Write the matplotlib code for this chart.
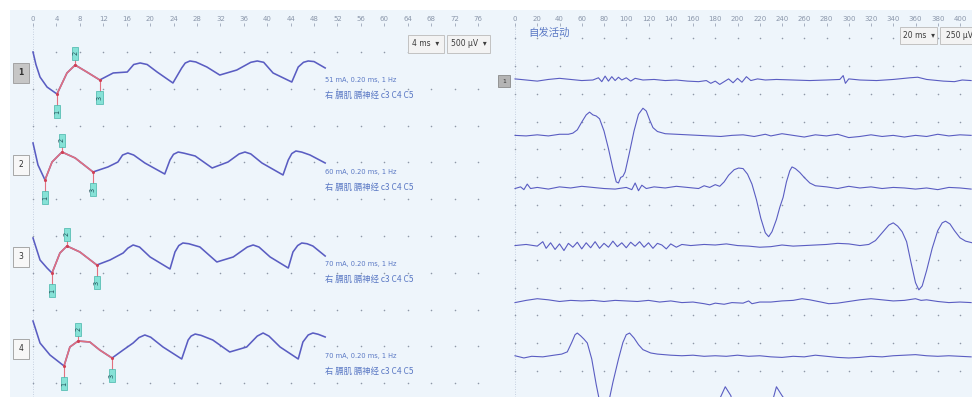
import numpy as np
import matplotlib
matplotlib.use('Agg')
import matplotlib.pyplot as plt
from matplotlib.patches import Rectangle

# ---------------- data ----------------
left_ticks = list(range(0, 80, 4))          # ms
right_ticks = list(range(0, 420, 20))       # ms

l1_t = [0, 0.5, 1.2, 2.4, 4.1, 5.8, 7.2, 9.2, 11.4, 13.7, 16.1, 17.2, 18.3, 19.5, 21.2, 23.9,
        25.4, 26.0, 26.8, 27.8, 29.7, 31.9, 34.8, 37.2, 38.3, 39.4, 41.0, 44.2, 45.3, 46.2, 47.0, 48.0, 49.9]
l1_v = [0, -170, -340, -476, -571, -285, -177, -272, -380, -285, -272, -170, -149, -170, -272, -421,
        -217, -150, -122, -135, -204, -313, -245, -140, -122, -140, -285, -408, -204, -140, -122, -130, -217]
l2_t = [0, 0.85, 2.05, 3.25, 4.95, 7.2, 10.25, 12.8, 14.5, 15.3, 16.2, 17.2, 19.1, 22.5, 23.4, 24.0,
        24.8, 25.8, 27.7, 30.6, 33.3, 35.2, 36.2, 37.2, 39.1, 42.7, 43.6, 44.2, 44.9, 45.9, 47.3, 49.9]
l2_v = [14, -285, -489, -245, -109, -190, -380, -312, -245, -150, -122, -150, -258, -408, -217, -140,
        -109, -125, -163, -326, -245, -135, -109, -135, -258, -421, -217, -130, -95, -110, -149, -258]
l3_t = [0, 1.2, 2.4, 3.25, 4.6, 5.8, 8.0, 10.9, 13.15, 15.4, 16.2, 17.1, 18.2, 20.0, 23.4, 24.25,
        24.9, 25.6, 26.6, 28.5, 31.4, 34.2, 36.6, 37.6, 38.6, 40.5, 43.6, 44.4, 45.2, 45.9, 46.8, 47.8, 49.9]
l3_v = [-27, -326, -435, -503, -231, -136, -217, -394, -326, -231, -165, -122, -150, -285, -448, -217,
        -130, -95, -105, -149, -353, -285, -150, -122, -150, -285, -435, -217, -130, -95, -105, -136, -272]
l4_t = [0, 1.2, 2.9, 5.3, 6.3, 7.7, 9.7, 11.4, 13.5, 15.4, 17.1, 18.1, 19.1, 20.1, 22.2, 25.4,
        26.5, 27.0, 27.7, 28.7, 30.7, 33.6, 36.5, 38.3, 39.3, 40.3, 42.2, 45.3, 46.1, 47.0, 47.8, 48.7, 49.9]
l4_v = [95, -204, -367, -516, -258, -177, -190, -299, -408, -299, -204, -130, -95, -125, -258, -421,
        -163, -110, -82, -100, -163, -326, -258, -110, -68, -110, -258, -421, -190, -95, -68, -85, -122]
l1_marks = [4.1, 7.2, 11.4]
l2_marks = [2.05, 4.95, 10.25]
l3_marks = [3.25, 5.8, 10.9]
l4_marks = [5.3, 7.7, 13.5]
stim_labels = ["51 mA, 0.20 ms, 1 Hz", "60 mA, 0.20 ms, 1 Hz",
               "70 mA, 0.20 ms, 1 Hz", "70 mA, 0.20 ms, 1 Hz"]
site_label = "右 膈肌 膈神经 c3 C4 C5"

ra_t = [0, 10, 20, 30, 40, 50, 60, 70, 75, 78, 81, 84, 87, 90, 93, 96, 100, 104, 108, 115, 125, 135,
        145, 155, 165, 172, 176, 180, 184, 188, 192, 196, 200, 204, 208, 212, 218, 225, 235, 250, 265,
        280, 292, 295, 297, 300, 310, 325, 340, 355, 362, 370, 385, 395, 402, 410]
ra_v = [10, 0, -10, 5, 15, 5, -5, 0, 20, -15, 35, -10, 30, -5, 25, 0, 20, -10, 15, 0, 5, -5,
        0, -10, -15, -5, -30, -10, -40, -15, 10, -25, 15, -20, 30, -5, 10, 0, 5, 0, -5,
        0, 5, 40, -30, 10, 0, -5, 5, 20, 25, 5, -10, -15, 0, -5]
rb_t = [0, 10, 20, 30, 40, 48, 52, 56, 60, 64, 67, 70, 73, 76, 80, 84, 88, 91, 93, 95, 97, 99, 103,
        107, 111, 115, 118, 121, 124, 128, 135, 145, 155, 165, 175, 185, 195, 205, 215, 225, 230, 240,
        250, 260, 270, 280, 290, 300, 310, 320, 330, 340, 350, 360, 370, 380, 390, 400, 410]
rb_v = [0, -5, 5, -5, 10, 10, 20, 50, 120, 185, 210, 185, 175, 150, 40, -120, -300, -420, -430, -380,
        -370, -330, -150, 40, 190, 245, 220, 140, 70, 35, 15, 10, 5, 0, -5, -10, 0, 5, -10, 10, -5, 15,
        0, -15, 5, -5, 10, -20, -10, 5, -10, 0, -15, 0, -10, 10, -5, 5, 0]
rc_t = [0, 5, 8, 11, 14, 20, 30, 40, 50, 60, 70, 80, 90, 100, 105, 108, 111, 114, 118, 125, 135, 145,
        155, 165, 170, 175, 180, 184, 188, 192, 197, 201, 205, 209, 213, 217, 221, 225, 228, 231, 235,
        238, 241, 244, 247, 249, 252, 256, 260, 265, 270, 280, 290, 300, 310, 320, 330, 340, 350, 360,
        370, 380, 390, 400, 410]
rc_v = [20, 35, 10, 60, 20, 30, 15, 35, 25, 40, 30, 20, 15, 30, 10, 70, 0, 50, 20, 35, 25, 40,
        30, 20, 45, 30, 55, 40, 80, 140, 190, 205, 200, 150, 60, -80, -250, -380, -415, -370, -260,
        -150, -60, 80, 180, 215, 200, 165, 120, 70, 45, 35, 20, 40, 25, 35, 20, 30, 25, 15,
        25, 10, 30, 25, 15]
rd_t = [0, 10, 20, 25, 28, 32, 36, 40, 44, 48, 52, 56, 60, 64, 68, 72, 76, 80, 84, 88, 92, 96, 100,
        104, 108, 112, 116, 120, 124, 128, 132, 136, 140, 145, 150, 158, 170, 180, 190, 200, 210, 220,
        230, 240, 250, 260, 270, 280, 290, 300, 310, 318, 324, 330, 336, 340, 344, 348, 352, 356, 360,
        363, 366, 370, 375, 380, 384, 387, 391, 395, 400, 405, 411]
rd_v = [5, 15, 0, 40, -20, 30, -30, 20, -40, 25, -10, 35, -25, 30, -15, 40, -20, 25, -10, 45, -5, 30,
        -15, 35, 0, 40, -10, 30, -20, 25, 10, -25, 20, -10, 15, 5, 15, 10, 20, 5, 0, -10,
        -5, 10, 0, 5, 10, 15, 25, 20, 5, 15, 50, 120, 190, 210, 180, 130, 40, -150, -330,
        -395, -360, -220, -20, 140, 210, 225, 200, 140, 75, 45, 30]
re_t = [0, 10, 20, 30, 40, 50, 60, 70, 80, 90, 100, 110, 120, 130, 140, 150, 160, 170, 175, 180, 188,
        195, 205, 210, 213, 220, 230, 240, 250, 258, 265, 275, 282, 290, 300, 310, 320, 330, 340, 350,
        360, 365, 370, 380, 390, 400, 410]
re_v = [-10, 10, 25, 15, 0, 10, 5, 10, 0, 10, 5, 0, 10, -5, 5, -10, -5, -20, -30, -15, -25,
        -10, -15, 5, -20, -5, -5, 5, 10, 25, 15, -5, -20, -15, 0, 15, 25, 15, 5, 10,
        25, 10, 15, 0, -10, -5, -10]
rf_t = [0, 8, 15, 25, 35, 42, 47, 51, 54, 56, 59, 62, 65, 69, 73, 77, 80, 84, 88, 93, 97, 100, 103,
        107, 111, 115, 122, 128, 140, 150, 160, 170, 180, 190, 200, 210, 220, 230, 240, 250, 260, 270,
        280, 290, 300, 310, 320, 330, 340, 350, 360, 370, 380, 390, 400, 410]
rf_v = [10, -10, 5, 0, 15, 25, 45, 130, 200, 215, 190, 160, 125, -20, -250, -450, -490, -420, -230,
        -20, 130, 200, 215, 170, 110, 65, 35, 25, 15, 10, 15, 5, 10, 5, 15, 5, 10, 0, -5, 5, 0, 15,
        5, -5, -10, -5, 5, 0, 10, 15, 20, 10, 5, 10, 5, 0]
rg_t = [0, 50, 100, 150, 180, 184, 189, 194, 200, 210, 220, 228, 232, 235, 240, 248, 270, 300, 350, 410]
rg_v = [0, 5, 0, 5, 10, 120, 230, 150, -100, -400, -400, -100, 120, 230, 150, 40, 10, 0, 5, 0]

# ---------------- style ----------------
W, H = 972, 397
BG = '#eef5fb'
TRACE = '#5a5dc2'
RED = '#e2707e'
DOT = '#8f98a8'
TXT = '#5a78c4'
CJK = ['Noto Sans CJK SC', 'DejaVu Sans']
LX = 5.855      # px per ms (left)
LY = 13.587     # uV per px (left)

fig = plt.figure(figsize=(W / 100, H / 100), dpi=100, facecolor='white')
fig.patches.append(Rectangle((10 / W, 0), (W - 10) / W, (H - 10) / H, transform=fig.transFigure,
                             fc=BG, ec='none', zorder=-10))


def fbox(x0, y0, x1, y1, label, fc='#f3f3f3', ec='#c2c2c2'):
    fig.patches.append(Rectangle((x0 / W, 1 - y1 / H), (x1 - x0) / W, (y1 - y0) / H,
                                 transform=fig.transFigure, fc=fc, ec=ec, lw=0.7, zorder=5))
    fig.text((x0 + x1) / 2 / W, 1 - (y0 + y1) / 2 / H, label, ha='center', va='center',
             fontsize=5.5, color='#3c3c3c', zorder=6)


def style_axes(ax, ticks):
    ax.set_facecolor('none')
    for s in ax.spines.values():
        s.set_visible(False)
    ax.xaxis.tick_top()
    ax.set_xticks(ticks)
    ax.set_xticklabels([str(t) for t in ticks])
    ax.tick_params(axis='x', top=True, bottom=False, length=2, width=0.5, colors='#8a96aa',
                   labelsize=5, pad=1)
    ax.set_yticks([])


# ---------------- left panel ----------------
axL = fig.add_axes([10 / W, 0, 485 / W, (H - 26) / H])
style_axes(axL, left_ticks)
axL.set_xlim((10 - 33) / LX, (495 - 33) / LX)
axL.set_ylim(-(397 - 52) * LY, (52 - 26) * LY)
axL.axvline(0, color='#b9c4d6', lw=0.6, ls=(0, (1, 2)), zorder=0)
gx, gy = np.meshgrid(left_ticks, [-500 * k for k in range(10)])
axL.scatter(gx.ravel(), gy.ravel(), s=1.3, color=DOT, lw=0, zorder=1)

left_traces = [(l1_t, l1_v, l1_marks), (l2_t, l2_v, l2_marks),
               (l3_t, l3_v, l3_marks), (l4_t, l4_v, l4_marks)]
bw, bh = 6.5 / LX, 13 * LY
for k, (t, v, marks) in enumerate(left_traces):
    t = np.array(t, float)
    v = np.array(v, float)
    off = -1250 * k
    axL.plot(t, v + off, color=TRACE, lw=1.15, zorder=3, solid_joinstyle='round')
    m1, m2, m3 = marks
    seg_t = np.concatenate([[m1], t[(t > m1) & (t < m3)], [m3]])
    axL.plot(seg_t, np.interp(seg_t, t, v) + off, color=RED, lw=1.15, zorder=4, solid_joinstyle='round')
    for i, m in enumerate(marks):
        y = np.interp(m, t, v) + off
        yb = y + 12 * LY if i == 1 else y - 17.5 * LY
        axL.plot([m, m], [y, yb], color=RED, lw=0.8, zorder=4)
        axL.scatter([m], [y], s=5, color='#d04055', zorder=5, lw=0)
        axL.add_patch(Rectangle((m - bw / 2, yb - bh / 2), bw, bh, fc='#86e2d7', ec='#45b5aa',
                                lw=0.5, zorder=6))
        axL.text(m, yb, str(i + 1), rotation=90, fontsize=4.8, ha='center', va='center',
                 color='#24545c', zorder=7)
    axL.text(-2.05, off - 285, str(k + 1), fontsize=5.5, ha='center', va='center', color='#303030',
             zorder=6, fontweight='bold' if k == 0 else 'normal',
             bbox=dict(boxstyle='square,pad=0.7', fc='#c6c6c6' if k == 0 else '#f7f7f7',
                       ec='#9a9a9a', lw=0.6))
    axL.text(49.9, off - 380, stim_labels[k], fontsize=4.8, color=TXT, ha='left', va='center', zorder=6)
    axL.text(49.9, off - 590, site_label, fontsize=6, color=TXT, ha='left', va='center',
             family=CJK, zorder=6)

# ---------------- right panel ----------------
axR = fig.add_axes([497 / W, 0, (W - 497) / W, (H - 26) / H])
style_axes(axR, right_ticks)
axR.set_xlim((497 - 515) / 1.1125, (972 - 515) / 1.1125)
axR.set_ylim(-(397 - 80) * 9.03, (80 - 26) * 9.03)
axR.axvline(0, color='#b9c4d6', lw=0.6, ls=(0, (1, 2)), zorder=0)
gx, gy = np.meshgrid(right_ticks, [125 - 250 * j for j in range(-1, 12)])
axR.scatter(gx.ravel(), gy.ravel(), s=1.3, color=DOT, lw=0, zorder=1)

right_traces = [(ra_t, ra_v), (rb_t, rb_v), (rc_t, rc_v), (rd_t, rd_v),
                (re_t, re_v), (rf_t, rf_v), (rg_t, rg_v)]
for k, (t, v) in enumerate(right_traces):
    axR.plot(t, np.array(v, float) - 500 * k, color=TRACE, lw=0.8, zorder=3, solid_joinstyle='round')

axR.text(11.7, 424, "自发活动", fontsize=7.5, color=TXT, ha='left', va='center', family=CJK)
axR.text(-9.9, -10, "1", fontsize=4.3, ha='center', va='center', color='#303030', zorder=6,
         bbox=dict(boxstyle='square,pad=0.6', fc='#b4b4b4', ec='#8a8a8a', lw=0.6))

# ---------------- dropdown controls ----------------
fbox(408, 35, 444, 53, "4 ms  \u25BE")
fbox(447, 35, 490, 53, "500 µV  \u25BE")
fbox(900, 27, 937, 44, "20 ms  \u25BE")
fbox(940, 27, 978, 44, "250 µV")

fig.savefig('out.png', dpi=100, facecolor='white')
